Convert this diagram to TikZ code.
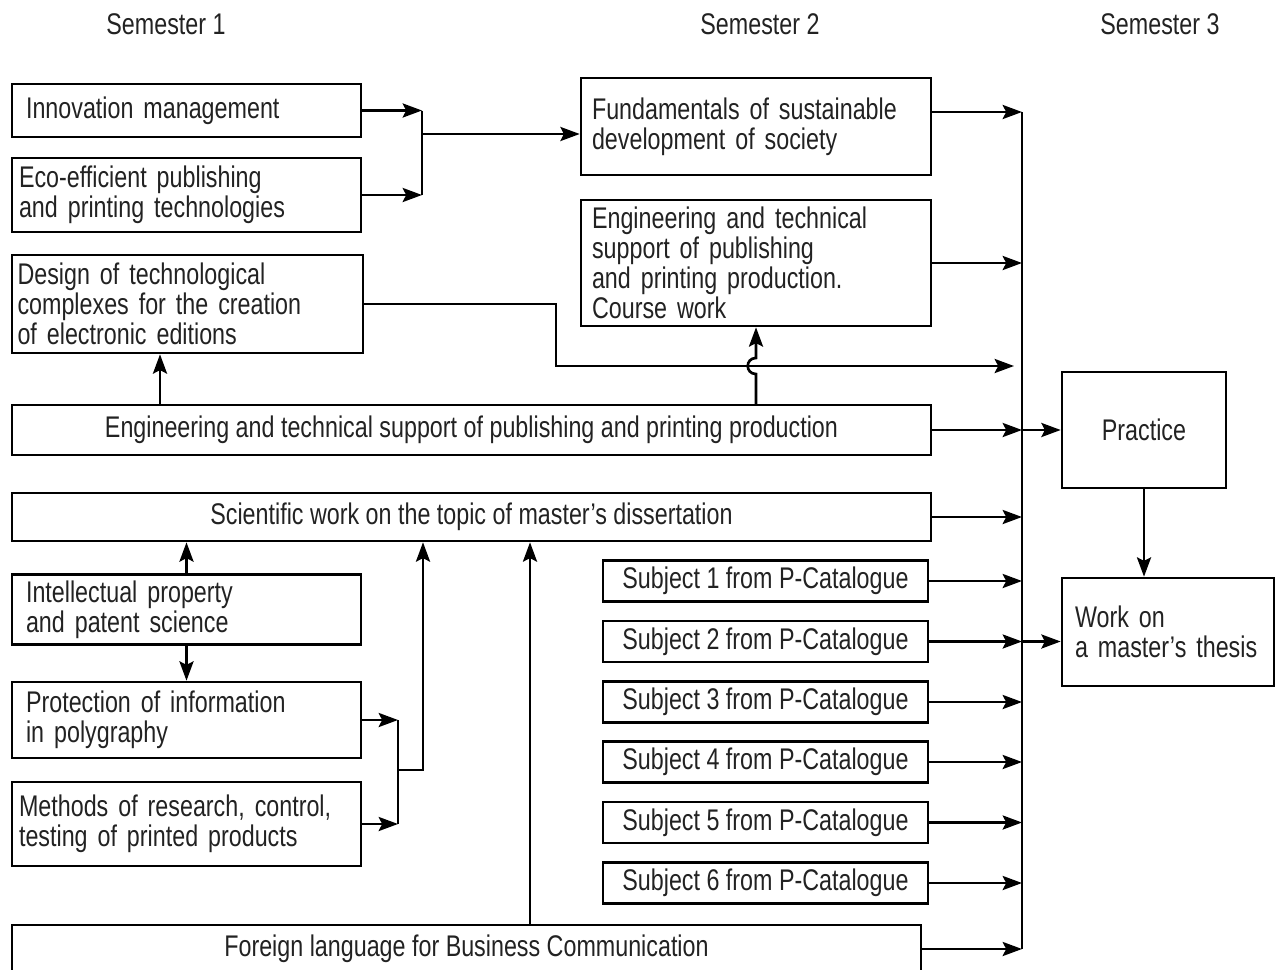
\documentclass[tikz,border=0pt]{standalone}
\usepackage{fontspec}
\setmainfont{Liberation Sans}[FakeStretch=0.78]
\usepackage{tikz}
\usetikzlibrary{positioning, arrows.meta, shapes}
\newcommand{\plainfont}{\fontsize{17pt}{17pt}\selectfont}
\definecolor{inkgray}{HTML}{222222}
\tikzstyle{course} = [rectangle, draw=black, line width=1.5pt, align=left, inner xsep=0pt, text=inkgray, font=\plainfont]
\tikzstyle{wide} = [rectangle, draw=black, line width=1.5pt, align=center, text=inkgray, font=\plainfont]
\tikzstyle{subject} = [rectangle, draw=black, line width=1.5pt, minimum width=6.5cm, minimum height=0.82cm, text=inkgray, font=\plainfont]
\tikzstyle{arrow} = [line width=1.5pt, -{Stealth[length=11pt, width=8pt, inset=2pt]}]
\tikzstyle{line} = [line width=1.5pt]

\begin{document}
\begin{tikzpicture}[x=0.02cm, y=-0.02cm]
    \useasboundingbox (0,0) rectangle (1278,970);
    \node (s1) [font=\plainfont, text=inkgray] at (166,24) {Semester 1};
    \node (s2) [font=\plainfont, text=inkgray] at (760,24) {Semester 2};
    \node (s3) [font=\plainfont, text=inkgray] at (1160,24) {Semester 3};
    \node (inno) [course, minimum width=6.98cm, minimum height=1.06cm, text width=6.42cm] at (186.5,110.5)
      {Innovation management};
    \node (eco) [course, minimum width=6.98cm, minimum height=1.48cm, text width=6.7cm] at (186.5,195)
      {Eco-efficient publishing\\and printing technologies};
    \node (design) [course, minimum width=7.02cm, minimum height=1.96cm, text width=6.8cm] at (187.5,304)
      {Design of technological\\complexes for the creation\\of electronic editions};
    \node (fund) [course, minimum width=7.0cm, minimum height=1.94cm, text width=6.56cm] at (756,126.5)
      {Fundamentals of sustainable\\development of society};
    \node (engbox) [course, minimum width=7.0cm, minimum height=2.52cm, text width=6.56cm] at (756,263)
      {Engineering and technical\\support of publishing\\and printing production.\\Course work};
    \node (engw) [wide, minimum width=18.38cm, minimum height=1.0cm] at (471.5,430)
      {Engineering and technical support of publishing and printing production};
    \node (sci) [wide, minimum width=18.38cm, minimum height=0.96cm] at (471.5,517)
      {Scientific work on the topic of master's dissertation};
    \node (ip) [course, minimum width=6.98cm, minimum height=1.38cm, text width=6.42cm] at (186.5,609.5)
      {Intellectual property\\and patent science};
    \node (prot) [course, minimum width=6.98cm, minimum height=1.52cm, text width=6.42cm] at (186.5,720)
      {Protection of information\\in polygraphy};
    \node (meth) [course, minimum width=6.98cm, minimum height=1.68cm, text width=6.7cm] at (186.5,824)
      {Methods of research, control,\\testing of printed products};
    \node (sub1) [subject] at (765.5,581) {Subject 1 from P-Catalogue};
    \node (sub2) [subject] at (765.5,641.5) {Subject 2 from P-Catalogue};
    \node (sub3) [subject] at (765.5,702) {Subject 3 from P-Catalogue};
    \node (sub4) [subject] at (765.5,762) {Subject 4 from P-Catalogue};
    \node (sub5) [subject] at (765.5,822.5) {Subject 5 from P-Catalogue};
    \node (sub6) [subject] at (765.5,883) {Subject 6 from P-Catalogue};
    \node (foreign) [wide, minimum width=18.18cm, minimum height=0.96cm] at (466.5,949)
      {Foreign language for Business Communication};
    \node (practice) [wide, minimum width=3.28cm, minimum height=2.32cm] at (1144,430) {Practice};
    \node (work) [course, minimum width=4.24cm, minimum height=2.16cm, text width=3.72cm] at (1168,632)
      {Work on\\a master's thesis};
    \coordinate (m1) at (422,134);
    \coordinate (bt) at (1022,112);
    \coordinate (bb) at (1022,949);
    \coordinate (dc) at (556,366);
    \coordinate (de) at (1014,366);
    \coordinate (d1) at (160,405);
    \coordinate (h1) at (756,405);
    \coordinate (m2) at (398,770);
    \coordinate (m3) at (423,770);
    \coordinate (f1) at (530,925);
    \draw [arrow] (inno.east) -- (inno.east -| m1);
    \draw [arrow] (eco.east) -- (eco.east -| m1);
    \draw [line] (inno.east -| m1) -- (eco.east -| m1);
    \draw [arrow] (m1) -- (m1 -| fund.west);
    \draw [line] (bt) -- (bb);
    \draw [arrow] (fund.east |- bt) -- (bt);
    \draw [arrow] (engbox.east) -- (engbox.east -| bt);
    \draw [arrow] (design.east) -| (dc) -- (de);
    \draw [arrow] (d1) -- (d1 |- design.south);
    \draw [arrow] (h1) -- ++(0,-31) .. controls +(-11,0) and +(-11,0) .. ++(0,-16) -- (h1 |- engbox.south);
    \draw [arrow] (engw.east) -- (engw.east -| bt);
    \draw [arrow] (engw.east -| bt) -- (practice.west);
    \draw [arrow] (sci.east) -- (sci.east -| bt);
    \draw [arrow] (sub1.east) -- (sub1.east -| bt);
    \draw [arrow] (sub2.east) -- (sub2.east -| bt);
    \draw [arrow] (sub3.east) -- (sub3.east -| bt);
    \draw [arrow] (sub4.east) -- (sub4.east -| bt);
    \draw [arrow] (sub5.east) -- (sub5.east -| bt);
    \draw [arrow] (sub6.east) -- (sub6.east -| bt);
    \draw [arrow] (foreign.east) -- (foreign.east -| bt);
    \draw [arrow] (sub2.east -| bt) -- (sub2.east -| work.west);
    \draw [arrow] (practice.south) -- (practice.south |- work.north);
    \draw [arrow] (ip.north) -- (ip.north |- sci.south);
    \draw [arrow] (ip.south) -- (prot.north);
    \draw [arrow] (prot.east) -- (prot.east -| m2);
    \draw [arrow] (meth.east) -- (meth.east -| m2);
    \draw [line] (prot.east -| m2) -- (meth.east -| m2);
    \draw [arrow] (m2) -- (m3) -- (m3 |- sci.south);
    \draw [arrow] (f1) -- (f1 |- sci.south);
  \end{tikzpicture}
\end{document}
